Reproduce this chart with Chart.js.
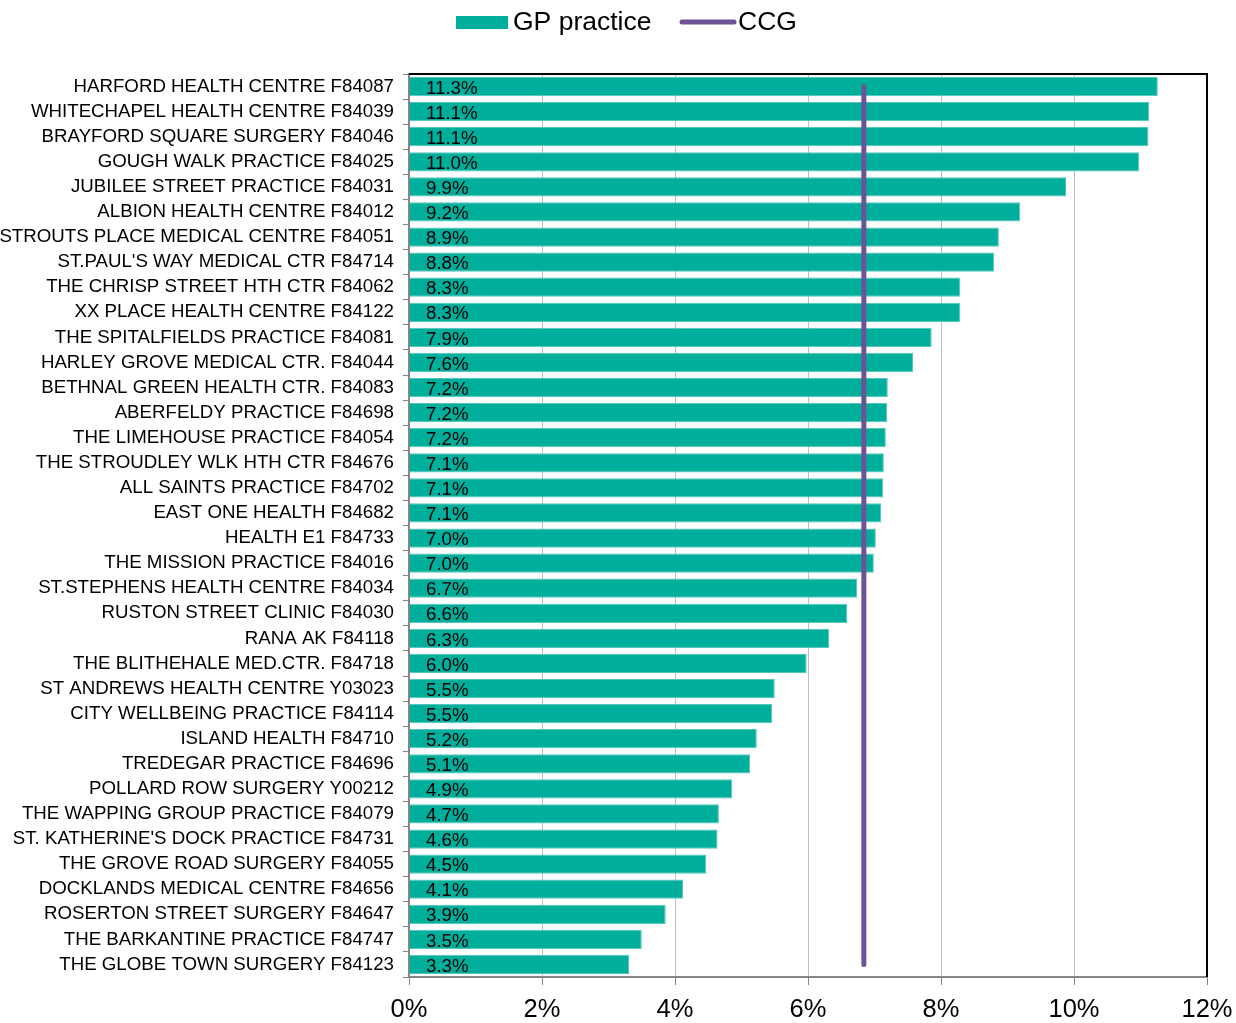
<!DOCTYPE html>
<html>
<head>
<meta charset="utf-8">
<script src="https://cdn.jsdelivr.net/npm/chart.js@4/dist/chart.umd.min.js"></script>
<style>
  html, body { margin: 0; padding: 0; background: #ffffff; }
  #wrap { width: 1236px; height: 1023px; position: relative; }
</style>
</head>
<body>
<div id="wrap"><canvas id="c" width="1236" height="1023"></canvas></div>
<script>
const categories = [
  "HARFORD HEALTH CENTRE F84087",
  "WHITECHAPEL HEALTH CENTRE F84039",
  "BRAYFORD SQUARE SURGERY F84046",
  "GOUGH WALK PRACTICE F84025",
  "JUBILEE STREET PRACTICE F84031",
  "ALBION HEALTH CENTRE F84012",
  "STROUTS PLACE MEDICAL CENTRE F84051",
  "ST.PAUL'S WAY MEDICAL CTR F84714",
  "THE CHRISP STREET HTH CTR F84062",
  "XX PLACE HEALTH CENTRE F84122",
  "THE SPITALFIELDS PRACTICE F84081",
  "HARLEY GROVE MEDICAL CTR. F84044",
  "BETHNAL GREEN HEALTH CTR. F84083",
  "ABERFELDY PRACTICE F84698",
  "THE LIMEHOUSE PRACTICE F84054",
  "THE STROUDLEY WLK HTH CTR F84676",
  "ALL SAINTS PRACTICE F84702",
  "EAST ONE HEALTH F84682",
  "HEALTH E1 F84733",
  "THE MISSION PRACTICE F84016",
  "ST.STEPHENS HEALTH CENTRE F84034",
  "RUSTON STREET CLINIC F84030",
  "RANA AK F84118",
  "THE BLITHEHALE MED.CTR. F84718",
  "ST ANDREWS HEALTH CENTRE Y03023",
  "CITY WELLBEING PRACTICE F84114",
  "ISLAND HEALTH F84710",
  "TREDEGAR PRACTICE F84696",
  "POLLARD ROW SURGERY Y00212",
  "THE WAPPING GROUP PRACTICE F84079",
  "ST. KATHERINE'S DOCK PRACTICE F84731",
  "THE GROVE ROAD SURGERY F84055",
  "DOCKLANDS MEDICAL CENTRE F84656",
  "ROSERTON STREET SURGERY F84647",
  "THE BARKANTINE PRACTICE F84747",
  "THE GLOBE TOWN SURGERY F84123"
];

const gpPractice = [
  11.26, 11.13, 11.12, 10.98, 9.88, 9.19, 8.87, 8.80, 8.29, 8.29,
  7.86, 7.58, 7.20, 7.19, 7.17, 7.14, 7.13, 7.10, 7.02, 6.99,
  6.74, 6.59, 6.32, 5.98, 5.50, 5.46, 5.23, 5.13, 4.86, 4.66,
  4.64, 4.47, 4.12, 3.86, 3.50, 3.31
];

const ccg = [
  6.84, 6.84, 6.84, 6.84, 6.84, 6.84, 6.84, 6.84, 6.84, 6.84,
  6.84, 6.84, 6.84, 6.84, 6.84, 6.84, 6.84, 6.84, 6.84, 6.84,
  6.84, 6.84, 6.84, 6.84, 6.84, 6.84, 6.84, 6.84, 6.84, 6.84,
  6.84, 6.84, 6.84, 6.84, 6.84, 6.84
];

const xTicks = [0, 2, 4, 6, 8, 10, 12];
const seriesNames = ["GP practice", "CCG"];

const TEAL = "#00AE9C";
const TEAL_BORDER = "#52C7BA";
const PURPLE = "#6B5395";
const FONT = "'Liberation Sans', Arial, sans-serif";

const labelsPlugin = {
  id: "barLabels",
  afterDatasetsDraw(chart) {
    const ctx = chart.ctx;
    const meta = chart.getDatasetMeta(1);
    const xs = chart.scales.x;
    ctx.save();
    ctx.font = "18.7px " + FONT;
    ctx.fillStyle = "#000000";
    ctx.textAlign = "left";
    ctx.textBaseline = "middle";
    meta.data.forEach((bar, i) => {
      const txt = gpPractice[i].toFixed(1) + "%";
      ctx.fillText(txt, xs.getPixelForValue(0) + 17, bar.y + 2);
    });
    ctx.restore();
  }
};

const framePlugin = {
  id: "frame",
  afterDraw(chart) {
    const ctx = chart.ctx;
    const a = chart.chartArea;
    ctx.save();
    ctx.strokeStyle = "#000000";
    ctx.lineWidth = 2;
    ctx.beginPath();
    ctx.moveTo(a.left, a.top);
    ctx.lineTo(a.right, a.top);
    ctx.lineTo(a.right, a.bottom);
    ctx.stroke();
    ctx.restore();

    // legend
    ctx.save();
    ctx.font = "26.5px " + FONT;
    ctx.textBaseline = "middle";
    ctx.fillStyle = TEAL;
    ctx.fillRect(456, 16, 52, 13);
    ctx.fillStyle = "#000000";
    ctx.textAlign = "left";
    ctx.fillText(seriesNames[0], 513, 23);
    ctx.strokeStyle = PURPLE;
    ctx.lineWidth = 5;
    ctx.lineCap = "round";
    ctx.beginPath();
    ctx.moveTo(682, 22);
    ctx.lineTo(734, 22);
    ctx.stroke();
    ctx.fillText(seriesNames[1], 738, 23);
    ctx.restore();
  }
};

new Chart(document.getElementById("c"), {
  data: {
    labels: categories,
    datasets: [
      {
        type: "line",
        label: seriesNames[1],
        data: ccg,
        borderColor: PURPLE,
        backgroundColor: PURPLE,
        borderWidth: 5,
        borderCapStyle: "round",
        pointRadius: 0,
        fill: false,
        order: 0
      },
      {
        type: "bar",
        label: seriesNames[0],
        data: gpPractice,
        backgroundColor: TEAL,
        borderColor: TEAL_BORDER,
        borderWidth: 1,
        barPercentage: 0.77,
        categoryPercentage: 1.0,
        order: 1
      }
    ]
  },
  options: {
    indexAxis: "y",
    responsive: false,
    animation: false,
    layout: { padding: { top: 74, right: 29, left: 0, bottom: 0 } },
    plugins: {
      legend: { display: false },
      tooltip: { enabled: false }
    },
    scales: {
      x: {
        type: "linear",
        min: 0,
        max: 12,
        afterBuildTicks(scale) {
          scale.ticks = xTicks.map(v => ({ value: v }));
        },
        afterFit(scale) {
          scale.height = 46;
          scale.paddingLeft = 0;
          scale.paddingRight = 0;
        },
        grid: {
          color: "#BFBFBF",
          lineWidth: 1,
          tickLength: 8,
          tickColor: "#868686",
          drawOnChartArea: true
        },
        border: { color: "#868686", width: 2 },
        ticks: {
          color: "#000000",
          font: { family: FONT, size: 25.5 },
          padding: 10,
          maxRotation: 0,
          callback: v => v + "%"
        }
      },
      y: {
        type: "category",
        offset: true,
        afterFit(scale) {
          scale.width = 409;
          scale.paddingTop = 0;
          scale.paddingBottom = 0;
        },
        grid: {
          offset: true,
          drawOnChartArea: false,
          drawTicks: true,
          tickLength: 6,
          color: "#868686",
          tickColor: "#868686"
        },
        border: { color: "#868686", width: 2 },
        ticks: {
          color: "#000000",
          font: { family: FONT, size: 18.7 },
          padding: 9,
          autoSkip: false
        }
      }
    }
  },
  plugins: [labelsPlugin, framePlugin]
});
</script>
</body>
</html>
